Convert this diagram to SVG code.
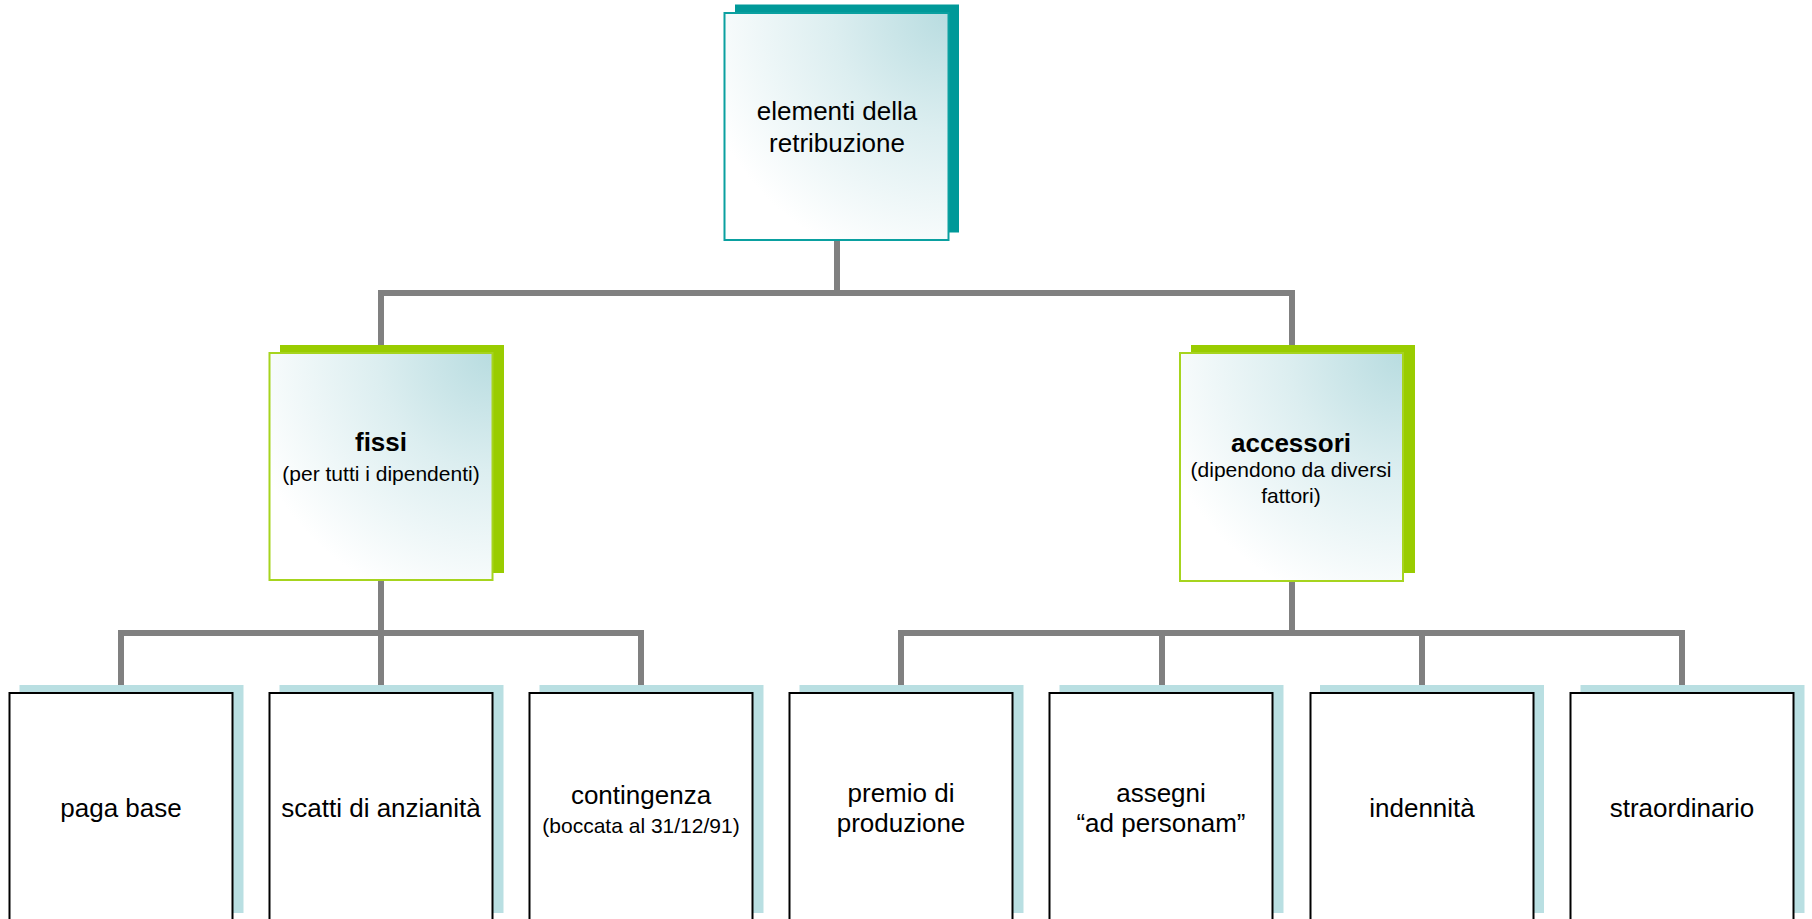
<svg xmlns="http://www.w3.org/2000/svg" width="1812" height="919" viewBox="0 0 1812 919">
<defs>
<radialGradient id="g" cx="1" cy="0" r="1.15" fx="1" fy="0">
<stop offset="0" stop-color="#B8DCE0"/>
<stop offset="0.45" stop-color="#DCEEF0"/>
<stop offset="1" stop-color="#FFFFFF"/>
</radialGradient>
<style>
.t{font-family:"Liberation Sans",Arial,sans-serif;font-size:26px;fill:#000;text-anchor:middle}
.s{font-size:21px}
.b{font-weight:bold}
.conn{fill:none;stroke:#808080;stroke-width:6;stroke-linejoin:miter}
.sh-top{fill:#009999}
.bx-top{fill:url(#g);stroke:#0AA0A0;stroke-width:2}
.sh-mid{fill:#99CC00}
.bx-mid{fill:url(#g);stroke:#A6D41E;stroke-width:2}
.sh-bot{fill:#B9DFE2}
.bx-bot{fill:#FFFFFF;stroke:#000;stroke-width:2}
</style>
</defs>
<rect width="1812" height="919" fill="#FFFFFF"/>
<g id="connectors">
<path class="conn" d="M837,240 V293"/>
<path class="conn" d="M381,345 V293 H1292 V345"/>
<path class="conn" d="M381,580 V633"/>
<path class="conn" d="M121,685 V633 H641 V685"/>
<path class="conn" d="M381,633 V685"/>
<path class="conn" d="M1292,581 V633"/>
<path class="conn" d="M901,685 V633 H1682 V685"/>
<path class="conn" d="M1162,633 V685"/>
<path class="conn" d="M1422,633 V685"/>
</g>
<g id="n-root">
<rect class="sh-top" x="735" y="4.5" width="224" height="228"/>
<rect class="bx-top" x="724.5" y="13" width="224" height="227"/>
<text class="t" x="837" y="120">elementi della</text>
<text class="t" x="837" y="152">retribuzione</text>
</g>
<g id="n-fissi">
<rect class="sh-mid" x="280" y="345" width="224" height="228"/>
<rect class="bx-mid" x="269.5" y="353" width="223" height="227"/>
<text class="t b" x="381" y="451">fissi</text>
<text class="t s" x="381" y="481">(per tutti i dipendenti)</text>
</g>
<g id="n-accessori">
<rect class="sh-mid" x="1191" y="345" width="224" height="228"/>
<rect class="bx-mid" x="1180" y="353" width="223" height="228"/>
<text class="t b" x="1291" y="452">accessori</text>
<text class="t s" x="1291" y="477">(dipendono da diversi</text>
<text class="t s" x="1291" y="503">fattori)</text>
</g>
<g id="n-paga">
<rect class="sh-bot" x="19.5" y="685" width="224" height="228"/>
<rect class="bx-bot" x="9.5" y="693" width="223" height="240"/>
<text class="t" x="121" y="817">paga base</text>
</g>
<g id="n-scatti">
<rect class="sh-bot" x="279.5" y="685" width="224" height="228"/>
<rect class="bx-bot" x="269.5" y="693" width="223" height="240"/>
<text class="t" x="381" y="817">scatti di anzianità</text>
</g>
<g id="n-contingenza">
<rect class="sh-bot" x="539.5" y="685" width="224" height="228"/>
<rect class="bx-bot" x="529.5" y="693" width="223" height="240"/>
<text class="t" x="641" y="804">contingenza</text>
<text class="t s" x="641" y="833">(boccata al 31/12/91)</text>
</g>
<g id="n-premio">
<rect class="sh-bot" x="799.5" y="685" width="224" height="228"/>
<rect class="bx-bot" x="789.5" y="693" width="223" height="240"/>
<text class="t" x="901" y="802">premio di</text>
<text class="t" x="901" y="832">produzione</text>
</g>
<g id="n-assegni">
<rect class="sh-bot" x="1059.5" y="685" width="224" height="228"/>
<rect class="bx-bot" x="1049.5" y="693" width="223" height="240"/>
<text class="t" x="1161" y="802">assegni</text>
<text class="t" x="1161" y="832">“ad personam”</text>
</g>
<g id="n-indennita">
<rect class="sh-bot" x="1320" y="685" width="224" height="228"/>
<rect class="bx-bot" x="1310.5" y="693" width="223" height="240"/>
<text class="t" x="1422" y="817">indennità</text>
</g>
<g id="n-straordinario">
<rect class="sh-bot" x="1580.5" y="685" width="224" height="228"/>
<rect class="bx-bot" x="1570.5" y="693" width="223" height="240"/>
<text class="t" x="1682" y="817">straordinario</text>
</g>
</svg>
